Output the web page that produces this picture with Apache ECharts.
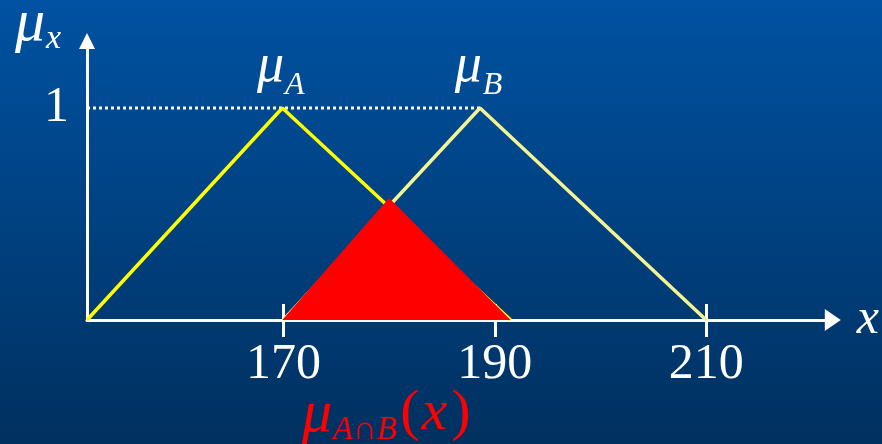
<!DOCTYPE html>
<html>
<head>
<meta charset="utf-8">
<script src="https://cdn.jsdelivr.net/npm/echarts@6/dist/echarts.min.js"></script>
<style>
  html, body { margin: 0; padding: 0; }
  #chart { width: 882px; height: 444px; }
</style>
</head>
<body>
<div id="chart"></div>
<script>
// Membership functions of two fuzzy sets A and B and their intersection
const xTicks = [170, 190, 210];
const xRange = [151.42, 221.98];
const yRange = [0, 1.316];
const yTicks = [1];
const muA = [[151.42, 0], [169.9, 1], [191.5, 0]];
const muB = [[170, 0], [188.6, 1], [210, 0]];
const muAandB = [[169.9, 0], [180.0, 0.575], [191.5, 0]];
const peakNames = ['A', 'B'];

const serif = '"Liberation Serif", "DejaVu Serif", serif';
const white = '#ffffff';
const red = '#ff0000';

const chart = echarts.init(document.getElementById('chart'));

// the peak (membership 1) of each set, labelled with its name
const peaks = [muA, muB].map(function (s, i) {
  const p = s.filter(function (d) { return d[1] === 1; })[0];
  return { value: p, name: peakNames[i] };
});
const unitLine = [[xRange[0], 1], [Math.max.apply(null, peaks.map(function (p) { return p.value[0]; })), 1]];

// rich-text styles for a symbol with a lowered subscript
function subscriptRich(color, mainSize, subSize, key, subLine) {
  const fill = {};
  fill[key] = color;
  return {
    m: Object.assign({ fontFamily: serif, fontStyle: 'italic', fontSize: mainSize, lineHeight: 62, verticalAlign: 'top' }, fill),
    s: Object.assign({ fontFamily: serif, fontStyle: 'italic', fontSize: subSize, lineHeight: subLine || 20, verticalAlign: 'bottom', padding: [0, 3, 0, 1] }, fill),
    p: Object.assign({ fontFamily: serif, fontSize: mainSize - 2, lineHeight: 62, verticalAlign: 'top' }, fill),
    x: Object.assign({ fontFamily: serif, fontStyle: 'italic', fontSize: mainSize - 2, lineHeight: 62, verticalAlign: 'top', padding: [0, 4, 0, 2] }, fill)
  };
}

const option = {
  animation: false,
  backgroundColor: {
    type: 'linear', x: 0, y: 0, x2: 0, y2: 1,
    colorStops: [
      { offset: 0, color: '#0052a2' },
      { offset: 1, color: '#00305f' }
    ]
  },
  grid: { left: 87, right: 47, top: 41, bottom: 124 },
  xAxis: [
    {
      type: 'value', min: xRange[0], max: xRange[1], position: 'bottom',
      splitLine: { show: false },
      axisLine: { show: true, onZero: false, symbol: ['none', 'triangle'], symbolSize: [22, 16], lineStyle: { color: white, width: 3 } },
      axisTick: { show: true, customValues: xTicks, length: 17, lineStyle: { color: white, width: 3 } },
      axisLabel: { show: true, customValues: xTicks, margin: 20, color: white, fontFamily: serif, fontSize: 50 },
      name: 'x', nameLocation: 'end', nameGap: 24,
      nameTextStyle: { fontFamily: serif, fontStyle: 'italic', fontSize: 50, color: white, verticalAlign: 'middle', padding: [0, 0, 2, 0] }
    },
    {
      type: 'value', min: xRange[0], max: xRange[1], position: 'bottom',
      splitLine: { show: false },
      axisLine: { show: false },
      axisTick: { show: true, inside: true, customValues: xTicks, length: 16, lineStyle: { color: white, width: 3 } },
      axisLabel: { show: false }
    }
  ],
  yAxis: {
    type: 'value', min: yRange[0], max: yRange[1],
    splitLine: { show: false },
    axisLine: { show: true, symbol: ['none', 'triangle'], symbolSize: [16, 16], lineStyle: { color: white, width: 3 } },
    axisTick: { show: false },
    axisLabel: { show: true, customValues: yTicks, margin: 18, color: white, fontFamily: serif, fontSize: 50 }
  },
  graphic: [
    {
      type: 'text', left: 15, top: -6,
      style: { text: '{m|μ}{s|x}', rich: subscriptRich(white, 60, 34, 'fill') }
    },
    {
      type: 'text', left: 302, top: 385,
      style: { text: '{m|μ}{s|A∩B}{p|(}{x|x}{p|)}', rich: subscriptRich(red, 60, 33, 'fill', 12) }
    }
  ],
  series: [
    {
      type: 'line', data: unitLine, symbol: 'none', silent: true, z: 2,
      lineStyle: { color: white, width: 3, type: [3, 3] }
    },
    {
      type: 'line', data: muA, symbol: 'none', z: 3,
      lineStyle: { color: '#ffff00', width: 3.5 }
    },
    {
      type: 'line', data: muB, symbol: 'none', z: 3,
      lineStyle: { color: '#f4f590', width: 3.5 }
    },
    {
      type: 'line', data: muAandB, symbol: 'none', z: 4,
      lineStyle: { width: 0, color: red },
      areaStyle: { color: red, opacity: 1 }
    },
    {
      type: 'scatter', data: peaks, symbolSize: 0, z: 5, silent: true,
      itemStyle: { opacity: 1 },
      label: {
        show: true, position: 'top', distance: 6, opacity: 1,
        formatter: function (p) { return '{m|μ}{s|' + p.name + '}'; },
        rich: subscriptRich(white, 54, 32, 'color')
      }
    }
  ]
};

chart.setOption(option);
</script>
</body>
</html>
